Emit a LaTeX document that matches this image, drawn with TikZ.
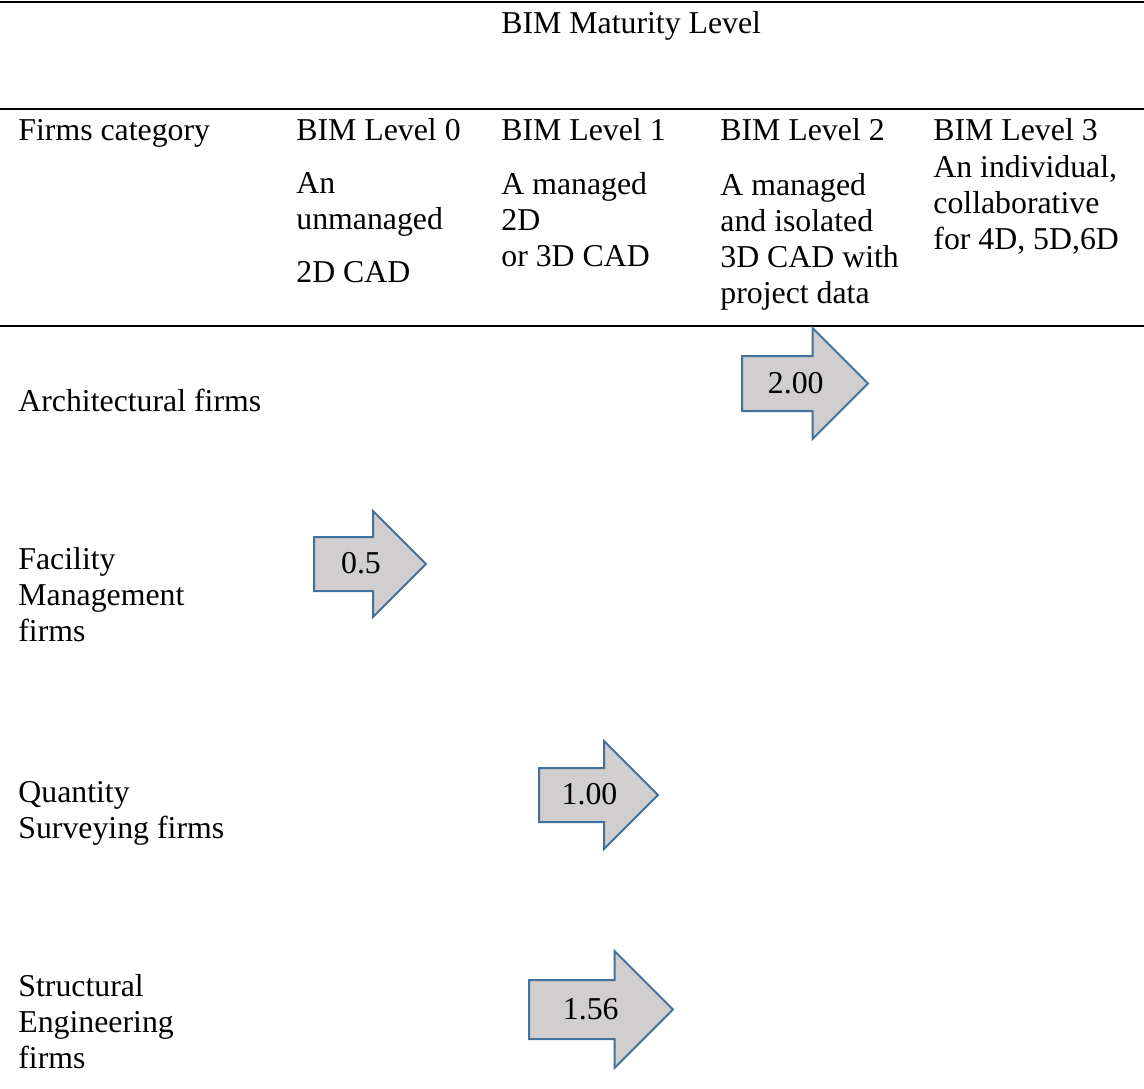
\documentclass[tikz,border=0pt]{standalone}
\usepackage{fontspec}
\setmainfont{Liberation Serif}
\usepackage{tikz}
\usetikzlibrary{shapes.arrows}
\definecolor{BimBlue}{HTML}{41719C}
\definecolor{BimGray}{HTML}{D0CECE}
\tikzset{
  rule/.style={line width=1.1pt,draw=black},
  txt/.style={anchor=base west,inner sep=0pt,align=left,
    font=\fontsize{15.9pt}{18pt}\selectfont},
  levelarrow/.style={single arrow,draw=BimBlue,fill=BimGray,line width=1pt,
    inner xsep=0pt,inner ysep=0pt,anchor=tail,
    font=\fontsize{15.9pt}{18pt}\selectfont}
}
\begin{document}
\begin{tikzpicture}[x=0.5pt,y=-0.5pt]
        \useasboundingbox (0,0) rectangle (1144,1088);
        % table rules
        \coordinate (topL) at (0,2);
        \coordinate (topR) at (1144,2);
        \coordinate (midL) at (0,109);
        \coordinate (midR) at (1144,109);
        \coordinate (botL) at (0,326);
        \coordinate (botR) at (1144,326);
        \draw[rule] (topL) -- (topR);
        \draw[rule] (midL) -- (midR);
        \draw[rule] (botL) -- (botR);
        % header (base anchor = last line)
        \node[txt] (maturity) at (501,33) {BIM Maturity Level};
        \node[txt] (category) at (18,140) {Firms category};
        \node[txt] (lvl0) at (296,140) {BIM Level 0};
        \node[txt] (lvl1) at (501,140) {BIM Level 1};
        \node[txt] (lvl2) at (720,140) {BIM Level 2};
        \node[txt] (lvl3) at (933,140) {BIM Level 3};
        \node[txt] (desc0) at (296,282) {An\\unmanaged\\[8.5pt]2D CAD};
        \node[txt] (desc1) at (501,266) {A managed\\2D\\or 3D CAD};
        \node[txt] (desc2) at (720,303) {A managed\\and isolated\\3D CAD with\\project data};
        \node[txt] (desc3) at (933,249) {An individual,\\collaborative\\for 4D, 5D,6D};
        % firms
        \node[txt] (arch) at (18,411) {Architectural firms};
        \node[txt] (facility) at (18,641) {Facility\\Management\\firms};
        \node[txt] (quantity) at (18,838) {Quantity\\Surveying firms};
        \node[txt] (structural) at (18,1068) {Structural\\Engineering\\firms};
        % maturity arrows
        \node[levelarrow,minimum height=63pt,single arrow head extend=14pt,
          text height=18pt,text depth=8.5pt] (archarrow) at (741,383.5) {\hspace*{4.5pt}2.00};
        \node[levelarrow,minimum height=56pt,single arrow head extend=13pt,
          text height=17.75pt,text depth=8.25pt] (facarrow) at (313,564) {\hspace*{4.5pt}0.5};
        \node[levelarrow,minimum height=59.5pt,single arrow head extend=13.5pt,
          text height=17.75pt,text depth=8.25pt] (qsarrow) at (538,795) {\hspace*{4.5pt}1.00};
        \node[levelarrow,minimum height=72pt,single arrow head extend=14.5pt,
          text height=19pt,text depth=9.5pt] (searrow) at (528,1009.5) {\hspace*{4.5pt}1.56};
      \end{tikzpicture}
\end{document}
